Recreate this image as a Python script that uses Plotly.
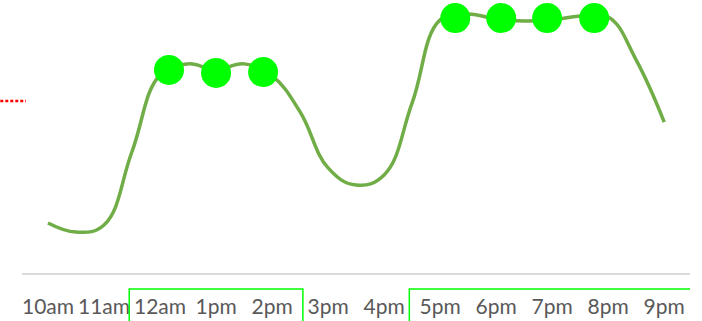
import plotly.graph_objects as go

# Hour labels along the x axis
hours = ["10am", "11am", "12am", "1pm", "2pm", "3pm", "4pm",
         "5pm", "6pm", "7pm", "8pm", "9pm"]

# Half-hourly readings (index 0 = 10am, step 0.5 h)
reading_x = [i * 0.5 for i in range(23)]
reading_y = [18.3, 15.0, 17.6, 44.5, 72.5, 76.6, 74.4, 76.6, 72.2, 59.0,
             38.5, 32.2, 35.9, 62.3, 92.7, 94.9, 93.0, 92.3, 92.7, 94.1,
             93.8, 78.0, 55.3]

# Highlighted peak samples
peak_x = [2.16, 3.0, 3.84, 7.27, 8.09, 8.91, 9.75]
peak_y = [74.4, 73.3, 73.6, 93.4, 93.4, 93.4, 93.4]

# Reference level and highlighted hour ranges (in hour-index units)
threshold = 63.0
windows = [(1.45, 4.55), (6.45, 12.0)]

fig = go.Figure()

fig.add_trace(go.Scatter(
    x=reading_x, y=reading_y, mode="lines",
    line=dict(color="#70ad47", width=3.5, shape="spline", smoothing=1.2),
    hoverinfo="skip", showlegend=False,
))

fig.add_trace(go.Scatter(
    x=peak_x, y=peak_y, mode="markers",
    marker=dict(color="#00ff00", size=30, line=dict(width=0)),
    showlegend=False,
))

# Threshold stub to the left of the plot area
fig.add_shape(type="line", xref="paper", yref="y",
              x0=-0.04, x1=0.006, y0=threshold, y1=threshold,
              line=dict(color="#ff0000", width=2.5, dash="3px,2px"))

# Boxes around the highlighted hour labels
for x0, x1 in windows:
    fig.add_shape(type="rect", xref="x", yref="paper",
                  x0=x0, x1=x1, y0=-0.0586, y1=-0.25,
                  line=dict(color="#00ff00", width=1.5),
                  fillcolor="rgba(0,0,0,0)", layer="above")

fig.update_layout(
    width=702, height=321,
    margin=dict(l=22, r=12, t=0, b=48),
    paper_bgcolor="white", plot_bgcolor="white",
    font=dict(family="Lato", size=21, color="#595959"),
    xaxis=dict(
        range=[-0.464, 11.46],
        tickmode="array", tickvals=list(range(len(hours))), ticktext=hours,
        showgrid=False, zeroline=False,
        showline=True, linecolor="#d9d9d9", linewidth=1.5,
        ticks="", ticklabelstandoff=14,
    ),
    yaxis=dict(range=[0, 100], visible=False),
)

fig.write_html("out.html")
